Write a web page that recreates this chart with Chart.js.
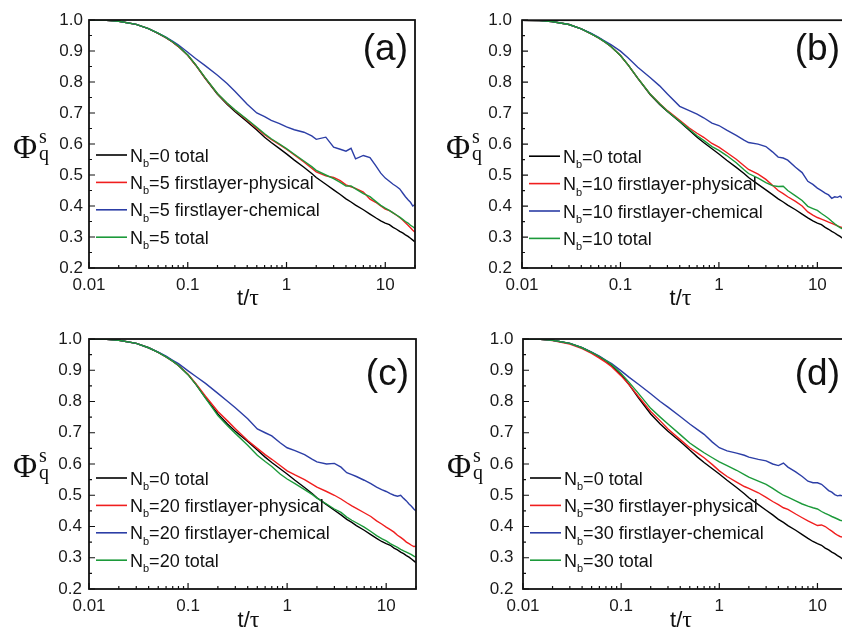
<!DOCTYPE html>
<html><head><meta charset="utf-8">
<script src="https://cdn.jsdelivr.net/npm/chart.js@4.4.0/dist/chart.umd.min.js"></script>
<style>
html,body{margin:0;padding:0;background:#fff;overflow:hidden;width:842px;height:631px;position:relative;}
.p{position:absolute;}
canvas{display:block;}
</style></head><body>
<div class="p" style="left:0;top:0"><canvas id="ca" width="420" height="315"></canvas></div>
<div class="p" style="left:420px;top:0"><canvas id="cb" width="440" height="315"></canvas></div>
<div class="p" style="left:0;top:315px"><canvas id="cc" width="420" height="316"></canvas></div>
<div class="p" style="left:420px;top:315px"><canvas id="cd" width="440" height="316"></canvas></div>
<script>
// ---- data (t/tau grid and Phi_q^s values) ----
const T = [0.01, 0.015, 0.02, 0.03, 0.04, 0.05, 0.06, 0.07, 0.08,
  0.1, 0.12, 0.15, 0.2, 0.25, 0.3, 0.4, 0.5, 0.6, 0.7, 0.85,
  1, 1.2, 1.5, 1.8, 2, 2.5, 3, 3.5, 4, 4.5,
  5, 6, 7, 8, 9, 10,
  11, 12, 13, 14, 15, 16, 17, 18, 19, 20];

const NB0_TOTAL = [1.000, 0.999, 0.996, 0.986, 0.972, 0.957, 0.943, 0.929, 0.915,
  0.886, 0.855, 0.812, 0.760, 0.728, 0.705, 0.672, 0.645, 0.622, 0.605, 0.585,
  0.568, 0.548, 0.525, 0.505, 0.492, 0.470, 0.452, 0.437, 0.423, 0.413,
  0.403, 0.388, 0.374, 0.362, 0.352, 0.345,
  0.340, 0.331, 0.325, 0.318, 0.313, 0.307, 0.302, 0.296, 0.290, 0.284];

const NB5_PHYS = [1.000, 0.999, 0.996, 0.986, 0.972, 0.957, 0.943, 0.929, 0.915,
  0.886, 0.855, 0.813, 0.762, 0.731, 0.709, 0.677, 0.651, 0.630, 0.615, 0.598,
  0.583, 0.565, 0.542, 0.522, 0.510, 0.497, 0.492, 0.482, 0.468, 0.462,
  0.457, 0.445, 0.422, 0.412, 0.400, 0.390,
  0.385, 0.378, 0.370, 0.363, 0.355, 0.346, 0.338, 0.330, 0.322, 0.315];
const NB5_CHEM = [1.000, 0.999, 0.996, 0.986, 0.972, 0.958, 0.945, 0.932, 0.920,
  0.896, 0.876, 0.853, 0.822, 0.795, 0.770, 0.728, 0.700, 0.688, 0.676, 0.666,
  0.655, 0.646, 0.638, 0.626, 0.615, 0.622, 0.590, 0.583, 0.577, 0.586,
  0.552, 0.563, 0.556, 0.530, 0.506, 0.490,
  0.480, 0.470, 0.463, 0.455, 0.442, 0.430, 0.420, 0.412, 0.400, 0.405];
const NB5_TOTAL = [1.000, 0.999, 0.996, 0.986, 0.972, 0.958, 0.944, 0.930, 0.916,
  0.887, 0.856, 0.814, 0.763, 0.732, 0.710, 0.679, 0.654, 0.633, 0.617, 0.600,
  0.585, 0.567, 0.545, 0.527, 0.515, 0.500, 0.488, 0.476, 0.464, 0.465,
  0.455, 0.440, 0.430, 0.415, 0.402, 0.393,
  0.386, 0.378, 0.371, 0.364, 0.357, 0.350, 0.345, 0.338, 0.333, 0.328];

const NB10_PHYS = [1.000, 0.999, 0.996, 0.986, 0.972, 0.957, 0.943, 0.929, 0.915,
  0.886, 0.855, 0.813, 0.762, 0.731, 0.708, 0.677, 0.652, 0.635, 0.622, 0.602,
  0.590, 0.573, 0.551, 0.530, 0.518, 0.503, 0.486, 0.467, 0.450, 0.440,
  0.430, 0.415, 0.400, 0.381, 0.371, 0.363,
  0.358, 0.353, 0.348, 0.344, 0.340, 0.336, 0.333, 0.330, 0.327, 0.325];
const NB10_CHEM = [1.000, 0.999, 0.996, 0.986, 0.972, 0.958, 0.945, 0.932, 0.921,
  0.900, 0.878, 0.848, 0.815, 0.788, 0.762, 0.722, 0.708, 0.697, 0.685, 0.668,
  0.660, 0.645, 0.628, 0.613, 0.605, 0.600, 0.592, 0.575, 0.558, 0.555,
  0.548, 0.525, 0.508, 0.480, 0.470, 0.458,
  0.450, 0.442, 0.436, 0.425, 0.430, 0.428, 0.432, 0.425, 0.420, 0.418];
const NB10_TOTAL = [1.000, 0.999, 0.996, 0.986, 0.972, 0.957, 0.943, 0.929, 0.915,
  0.886, 0.855, 0.813, 0.762, 0.730, 0.706, 0.674, 0.648, 0.627, 0.612, 0.592,
  0.580, 0.563, 0.540, 0.517, 0.505, 0.490, 0.476, 0.466, 0.463, 0.464,
  0.450, 0.433, 0.418, 0.399, 0.392, 0.386,
  0.376, 0.368, 0.360, 0.351, 0.343, 0.336, 0.330, 0.326, 0.322, 0.320];

const NB20_PHYS = [1.000, 0.999, 0.996, 0.986, 0.972, 0.957, 0.943, 0.929, 0.915,
  0.887, 0.857, 0.817, 0.768, 0.738, 0.713, 0.675, 0.650, 0.630, 0.615, 0.595,
  0.578, 0.565, 0.550, 0.535, 0.526, 0.512, 0.500, 0.488, 0.476, 0.466,
  0.458, 0.444, 0.432, 0.418, 0.408, 0.398,
  0.390, 0.382, 0.372, 0.365, 0.358, 0.350, 0.345, 0.340, 0.336, 0.337];
const NB20_CHEM = [1.000, 0.999, 0.996, 0.986, 0.972, 0.958, 0.945, 0.932, 0.921,
  0.898, 0.880, 0.858, 0.826, 0.801, 0.780, 0.745, 0.712, 0.700, 0.690, 0.668,
  0.652, 0.643, 0.630, 0.615, 0.607, 0.600, 0.602, 0.590, 0.572, 0.566,
  0.560, 0.548, 0.537, 0.526, 0.518, 0.512,
  0.505, 0.500, 0.497, 0.500, 0.490, 0.482, 0.472, 0.465, 0.456, 0.450];
const NB20_TOTAL = [1.000, 0.999, 0.996, 0.986, 0.972, 0.957, 0.943, 0.929, 0.915,
  0.886, 0.855, 0.811, 0.755, 0.722, 0.698, 0.660, 0.628, 0.608, 0.592, 0.568,
  0.552, 0.537, 0.518, 0.502, 0.491, 0.472, 0.456, 0.445, 0.430, 0.420,
  0.412, 0.398, 0.384, 0.371, 0.361, 0.354,
  0.345, 0.339, 0.333, 0.327, 0.322, 0.318, 0.314, 0.310, 0.305, 0.302];

const NB30_PHYS = [1.000, 0.999, 0.995, 0.984, 0.969, 0.954, 0.939, 0.925, 0.911,
  0.882, 0.854, 0.816, 0.768, 0.738, 0.712, 0.678, 0.652, 0.635, 0.620, 0.598,
  0.578, 0.560, 0.542, 0.528, 0.522, 0.508, 0.493, 0.480, 0.470, 0.460,
  0.455, 0.440, 0.428, 0.418, 0.410, 0.403,
  0.405, 0.400, 0.392, 0.385, 0.378, 0.372, 0.368, 0.366, 0.364, 0.362];
const NB30_CHEM = [1.000, 0.999, 0.996, 0.986, 0.972, 0.958, 0.945, 0.932, 0.921,
  0.898, 0.878, 0.855, 0.825, 0.800, 0.782, 0.752, 0.728, 0.710, 0.695, 0.670,
  0.652, 0.642, 0.635, 0.628, 0.622, 0.615, 0.610, 0.600, 0.595, 0.603,
  0.590, 0.575, 0.560, 0.545, 0.540, 0.540,
  0.535, 0.525, 0.515, 0.510, 0.502, 0.498, 0.500, 0.498, 0.496, 0.495];
const NB30_TOTAL = [1.000, 0.999, 0.996, 0.986, 0.972, 0.957, 0.944, 0.931, 0.918,
  0.890, 0.862, 0.826, 0.778, 0.750, 0.728, 0.694, 0.667, 0.650, 0.636, 0.620,
  0.607, 0.595, 0.580, 0.566, 0.558, 0.545, 0.535, 0.522, 0.510, 0.500,
  0.494, 0.482, 0.472, 0.465, 0.460, 0.456,
  0.448, 0.442, 0.437, 0.432, 0.428, 0.424, 0.420, 0.418, 0.416, 0.415];

const X_TICKS = [0.01, 0.1, 1, 10];
const X_LABELS = ['0.01', '0.1', '1', '10'];
const Y_MINOR = [0.25, 0.35, 0.45, 0.55, 0.65, 0.75, 0.85, 0.95];
const PANEL_TAGS = ['(a)', '(b)', '(c)', '(d)'];
const NB_VALUES = [5, 10, 20, 30];
const SERIES_SUFFIX = ['firstlayer-physical', 'firstlayer-chemical', 'total'];
const COLORS = ['#000000', '#f01e1e', '#2c3ea6', '#1c9a3a'];

// ---- drawing ----
const SANS = '"Liberation Sans", Arial, sans-serif';
const SERIF = '"Liberation Serif", "Times New Roman", serif';

const decor = {
  id: 'decor',
  afterDraw(chart, args, o) {
    const {ctx, chartArea: a, scales: {x, y}} = chart;
    ctx.save();
    ctx.strokeStyle = '#111';
    ctx.lineWidth = 1.2;
    ctx.beginPath();
    // x ticks (inside)
    X_TICKS.forEach(d => {
      const px = x.getPixelForValue(d);
      ctx.moveTo(px, a.bottom); ctx.lineTo(px, a.bottom - 6);
      for (let k = 2; k <= 9; k++) {
        const v = d * k;
        if (v > x.max) break;
        const q = x.getPixelForValue(v);
        ctx.moveTo(q, a.bottom); ctx.lineTo(q, a.bottom - 3);
      }
    });
    // y ticks (inside)
    y.ticks.forEach(t => {
      const py = y.getPixelForValue(t.value);
      ctx.moveTo(a.left, py); ctx.lineTo(a.left + 6, py);
    });
    Y_MINOR.forEach(v => {
      const py = y.getPixelForValue(v);
      ctx.moveTo(a.left, py); ctx.lineTo(a.left + 3, py);
    });
    ctx.stroke();
    // frame
    ctx.lineWidth = 1.8;
    ctx.strokeStyle = '#111';
    ctx.strokeRect(a.left, a.top, a.right - a.left, a.bottom - a.top);

    // legend
    ctx.fillStyle = '#111';
    o.entries.forEach((e, i) => {
      const ry = a.top + o.legendTop + i * 27.4;
      ctx.strokeStyle = e.color; ctx.lineWidth = 1.6;
      ctx.beginPath(); ctx.moveTo(a.left + 7, ry); ctx.lineTo(a.left + 38, ry); ctx.stroke();
      let tx = a.left + 41;
      ctx.textAlign = 'left'; ctx.textBaseline = 'alphabetic';
      ctx.font = '18px ' + SANS;
      ctx.fillText('N', tx, ry + 6.5); tx += ctx.measureText('N').width;
      ctx.font = '11px ' + SANS;
      ctx.fillText('b', tx, ry + 12); tx += ctx.measureText('b').width;
      ctx.font = '18px ' + SANS;
      ctx.fillText(e.text, tx, ry + 6.5);
    });

    // panel tag
    ctx.font = '37px ' + SANS;
    ctx.textAlign = 'right';
    ctx.fillText(o.tag, a.right - 7, a.top + o.tagBase);

    // y title  Phi_q^s
    ctx.textAlign = 'left';
    ctx.font = '33px ' + SERIF;
    const fx = a.left - 76;
    ctx.fillText('Φ', fx, a.top + 138);
    const fw = ctx.measureText('Φ').width;
    ctx.font = '20px ' + SERIF;
    ctx.fillText('s', fx + fw + 2, a.top + 123);
    ctx.fillText('q', fx + fw + 2, a.top + 140);

    // x title t/tau
    ctx.font = '22px ' + SANS;
    const w1 = ctx.measureText('t/').width;
    ctx.font = '24px ' + SERIF;
    const w2 = ctx.measureText('τ').width;
    const cx = (a.left + a.right) / 2 - 4 - (w1 + w2) / 2;
    ctx.font = '22px ' + SANS;
    ctx.fillText('t/', cx, a.bottom + o.xTitleBase);
    ctx.font = '24px ' + SERIF;
    ctx.fillText('τ', cx + w1, a.bottom + o.xTitleBase);
    ctx.restore();
  }
};

function line(values, color, order) {
  return {
    data: T.map((t, i) => ({x: t, y: values[i]})),
    borderColor: color, borderWidth: 1.4, pointRadius: 0, fill: false,
    tension: 0, order: order
  };
}

const SERIES = [
  [NB5_PHYS, NB5_CHEM, NB5_TOTAL],
  [NB10_PHYS, NB10_CHEM, NB10_TOTAL],
  [NB20_PHYS, NB20_CHEM, NB20_TOTAL],
  [NB30_PHYS, NB30_CHEM, NB30_TOTAL]
];

const LAYOUT = [
  {id: 'ca', padTop: 20, padRight: 5, yW: 89, xH: 47, yPad: 6, legendTop: 135, tagBase: 40, xTitleBase: 37},
  {id: 'cb', padTop: 20, padRight: 13, yW: 102, xH: 47, yPad: 10, legendTop: 136, tagBase: 40, xTitleBase: 37},
  {id: 'cc', padTop: 24, padRight: 4, yW: 89, xH: 42, yPad: 7, legendTop: 139, tagBase: 46, xTitleBase: 38},
  {id: 'cd', padTop: 24, padRight: 13, yW: 103, xH: 42, yPad: 9.5, legendTop: 139, tagBase: 46, xTitleBase: 38}
];

LAYOUT.forEach((L, p) => {
  const [phys, chem, tot] = SERIES[p];
  const nb = NB_VALUES[p];
  const entries = [
    {text: '=0 total', color: COLORS[0]},
    {text: '=' + nb + ' ' + SERIES_SUFFIX[0], color: COLORS[1]},
    {text: '=' + nb + ' ' + SERIES_SUFFIX[1], color: COLORS[2]},
    {text: '=' + nb + ' ' + SERIES_SUFFIX[2], color: COLORS[3]}
  ];
  new Chart(document.getElementById(L.id), {
    type: 'line',
    data: {datasets: [
      line(NB0_TOTAL, COLORS[0], 4),
      line(phys, COLORS[1], 3),
      line(chem, COLORS[2], 2),
      line(tot, COLORS[3], 1)
    ]},
    options: {
      responsive: false, animation: false, devicePixelRatio: 1,
      layout: {padding: {left: 0, top: L.padTop, right: L.padRight, bottom: 0}},
      plugins: {
        legend: {display: false}, tooltip: {enabled: false},
        decor: {entries: entries, tag: PANEL_TAGS[p], legendTop: L.legendTop, tagBase: L.tagBase, xTitleBase: L.xTitleBase}
      },
      scales: {
        x: {
          type: 'logarithmic', min: 0.01, max: 20,
          grid: {display: false, drawTicks: false}, border: {display: false},
          afterBuildTicks: s => { s.ticks = X_TICKS.map(v => ({value: v})); },
          afterFit: s => { s.height = L.xH; },
          ticks: {callback: (v, i) => X_LABELS[i], font: {family: SANS, size: 17}, color: '#1a1a1a',
                  padding: 7, maxRotation: 0, autoSkip: false}
        },
        y: {
          min: 0.2, max: 1.0,
          grid: {display: false, drawTicks: false}, border: {display: false},
          afterFit: s => { s.width = L.yW; },
          ticks: {stepSize: 0.1, callback: v => Number(v).toFixed(1), font: {family: SANS, size: 17},
                  color: '#1a1a1a', padding: L.yPad}
        }
      }
    },
    plugins: [decor]
  });
});
</script>
</body></html>
